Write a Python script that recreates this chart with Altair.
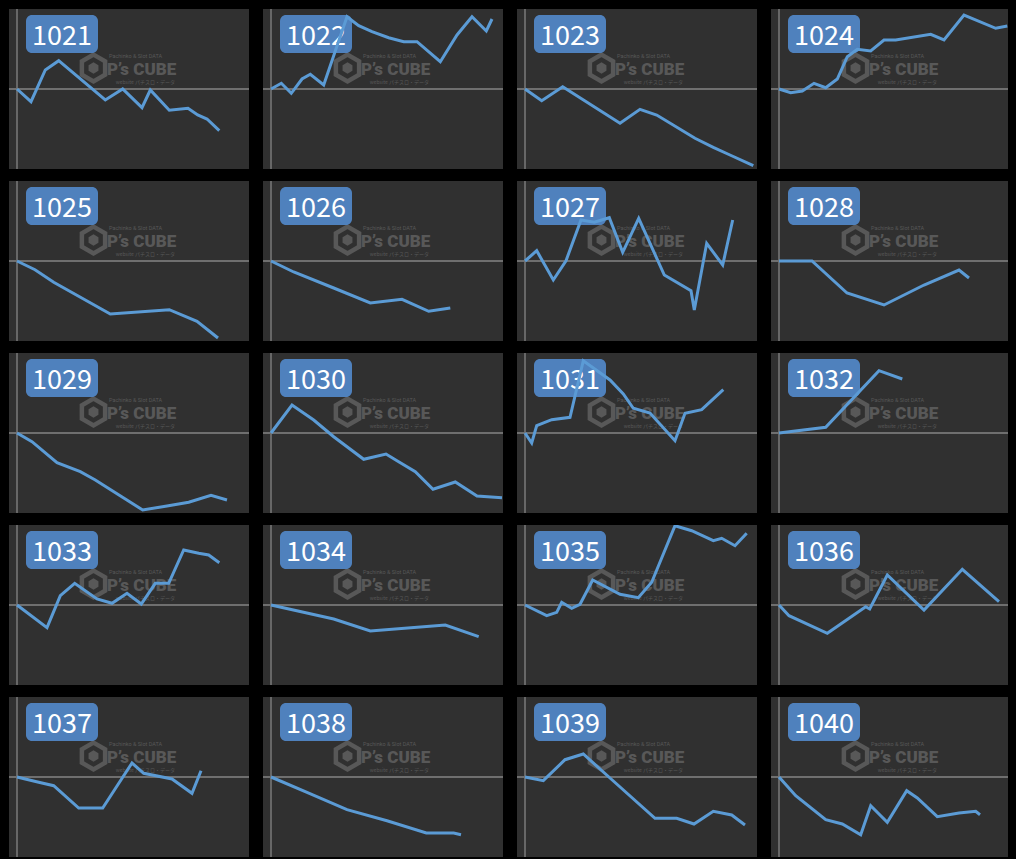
import altair as alt
import pandas as pd
import jinja2

# machine numbers (one small chart each)
MACHINES = [str(n) for n in range(1021, 1041)]

# x: play progress, y: coin difference (x100)
X_1021 = [0, 14, 28.3, 41.7, 88.3, 105.7, 125, 133.3, 152.3, 171, 180.7, 190, 202.3]
Y_1021 = [0, -12.7, 19, 28.3, -11, 0, -18.7, -1, -21.3, -19.3, -26, -30, -41.7]
X_1022 = [0, 10.3, 20.3, 31, 39.3, 52.7, 76, 87.7, 101, 117.7, 132.7, 146, 169.3, 186, 201, 215.3, 221]
Y_1022 = [0, 5.7, -4.3, 10, 14.7, 4, 72.3, 63.3, 57.3, 51.3, 47.3, 47.3, 27.3, 54, 72.3, 58, 70]
X_1023 = [0, 16.7, 37.7, 95, 115, 131.7, 170, 188.3, 205, 228.3]
Y_1023 = [0, -11.7, 2.3, -34.3, -20.3, -26, -49.3, -58.3, -66, -76.7]
X_1024 = [0, 11.7, 23.3, 35, 46.7, 58.3, 68.3, 78.3, 91.7, 105, 116.7, 151.7, 165, 185, 216.7, 228.3]
Y_1024 = [0, -3.7, -2, 5.7, 1.3, 10, 32.3, 39.7, 38, 49, 49, 54.7, 49, 74, 60.7, 63]
X_1025 = [0, 18, 36.7, 93.3, 152.3, 180, 201]
Y_1025 = [0, -8.7, -21.3, -53, -48.7, -60.3, -77]
X_1026 = [0, 22.7, 62.7, 99.3, 131, 157.7, 179.3]
Y_1026 = [0, -11, -27, -42, -38.3, -50.3, -47]
X_1027 = [0, 11.7, 28.3, 41, 56, 69.3, 84.3, 97.7, 113.7, 139.3, 166, 169.3, 181.7, 197.7, 207.7]
Y_1027 = [0, 10.3, -19, 0.3, 41, 38.7, 43.3, 8.7, 42.7, -14, -29.7, -49, 17.7, -4, 41]
X_1028 = [0, 33, 68, 105, 145, 180, 190]
Y_1028 = [0, 0, -32, -44, -24, -9, -17]
X_1029 = [0, 15, 40, 63.3, 78.3, 125.7, 150, 171.7, 194, 210]
Y_1029 = [0, -8.7, -29.7, -38.7, -47, -77, -73, -69.3, -62.3, -67]
X_1030 = [0, 21, 42.7, 62.7, 92.7, 115, 126, 144.3, 162, 184.3, 206, 231]
Y_1030 = [0, 28, 13, -3.7, -26.3, -21, -27.7, -38.7, -56.3, -49, -63, -64.7]
X_1031 = [0, 6.7, 11.7, 26.7, 45, 58.3, 85, 98.3, 108.3, 125, 150, 160, 176.7, 198.3]
Y_1031 = [0, -10, 7.3, 13.3, 15.7, 72.3, 53, 39, 24.7, 20, -7.7, 19.7, 23.3, 43.3]
X_1032 = [0, 46.7, 100, 123.3]
Y_1032 = [0, 5.7, 62.3, 54]
X_1033 = [0, 30, 43.3, 57.7, 80, 95, 110, 124.3, 138.3, 151.7, 166.7, 181.7, 191.7, 202.3]
Y_1033 = [0, -22.7, 9.3, 21.7, 6, 1.7, 11.7, 1, 21.7, 21.7, 55, 51.7, 50, 42.3]
X_1034 = [0, 62.7, 99.3, 174.3, 207.7]
Y_1034 = [0, -14, -26, -20, -31.7]
X_1035 = [0, 21.7, 31.7, 36.7, 46.7, 55, 67.7, 95, 113.3, 126.7, 150, 166.7, 188.3, 196.7, 210, 221.7]
Y_1035 = [0, -10.7, -7.3, 2.7, -3.3, 0.7, 25, 10.7, 7.3, 22.7, 79.3, 74.3, 64.3, 66.7, 59.3, 71.7]
X_1036 = [0, 10, 48.3, 86.7, 90.7, 108.3, 145, 183.3, 220]
Y_1036 = [0, -10.7, -28.3, -1.7, -4, 30, -5, 35.7, 3.3]
X_1037 = [0, 21.7, 36.7, 61.7, 85.7, 115, 126.7, 155, 175, 184]
Y_1037 = [0, -5.3, -8.7, -31, -31, 14, 3.7, -2, -16.3, 6.3]
X_1038 = [0, 36, 76, 116, 155.3, 182.7, 190]
Y_1038 = [0, -15.3, -32.7, -43.7, -56, -56, -57.7]
X_1039 = [0, 18.3, 40, 58.3, 85, 130, 151.7, 169, 188.3, 206.7, 220]
Y_1039 = [0, -3.7, 17.3, 23, -1, -41.3, -41.3, -47, -34.3, -38, -48]
X_1040 = [0, 16.7, 46.7, 63.3, 81.7, 91.7, 108.3, 127.7, 138.3, 158.3, 180, 196.7, 201]
Y_1040 = [0, -18.7, -42.7, -47, -57.7, -28.7, -45.3, -13.7, -21, -39.7, -36, -34.3, -37.7]

SERIES = {
    "1021": (X_1021, Y_1021), "1022": (X_1022, Y_1022), "1023": (X_1023, Y_1023),
    "1024": (X_1024, Y_1024), "1025": (X_1025, Y_1025), "1026": (X_1026, Y_1026),
    "1027": (X_1027, Y_1027), "1028": (X_1028, Y_1028), "1029": (X_1029, Y_1029),
    "1030": (X_1030, Y_1030), "1031": (X_1031, Y_1031), "1032": (X_1032, Y_1032),
    "1033": (X_1033, Y_1033), "1034": (X_1034, Y_1034), "1035": (X_1035, Y_1035),
    "1036": (X_1036, Y_1036), "1037": (X_1037, Y_1037), "1038": (X_1038, Y_1038),
    "1039": (X_1039, Y_1039), "1040": (X_1040, Y_1040),
}

rows = []
for m in MACHINES:
    xs, ys = SERIES[m]
    for i, (xv, yv) in enumerate(zip(xs, ys)):
        rows.append({"id": m, "i": i, "x": xv, "y": yv})
df = pd.DataFrame(rows)

XSCALE = alt.Scale(domain=[-8, 232], nice=False, zero=False)
YSCALE = alt.Scale(domain=[-80, 80], nice=False, zero=False)
WM = "#585858"
HEX = "M0,-1L0.866,-0.5L0.866,0.5L0,1L-0.866,0.5L-0.866,-0.5Z"


def panel(m):
    base = alt.Chart().transform_filter(alt.datum.id == m)
    first = base.transform_filter("datum.i == 0")

    vline = first.mark_rule(color="#7a7a7a", strokeWidth=1.5).encode(
        x=alt.X("x:Q", scale=XSCALE, axis=None))
    hline = first.mark_rule(color="#6f6f6f", strokeWidth=2).encode(
        y=alt.Y("y:Q", scale=YSCALE, axis=None))

    wm_hex = first.mark_point(shape=HEX, filled=False, stroke=WM, strokeWidth=4.5,
                              size=720, opacity=1).encode(
        x=alt.value(84.5), y=alt.value(59))
    wm_cube = first.mark_point(shape=HEX, filled=True, fill=WM, size=130,
                               opacity=1).encode(
        x=alt.value(84.5), y=alt.value(59))
    wm_main = first.mark_text(text="P\u2019s CUBE", font="Roboto", fontWeight=900,
                              fontSize=17, color=WM, align="left",
                              baseline="alphabetic").encode(
        x=alt.value(98), y=alt.value(66))
    wm_top = first.mark_text(text="Pachinko & Slot DATA", font="Roboto", fontSize=5.5,
                             color=WM, align="left", baseline="alphabetic").encode(
        x=alt.value(100), y=alt.value(49))
    wm_bot = first.mark_text(text="website パチスロ・データ", font="Noto Sans CJK JP",
                             fontSize=5, color=WM, align="right",
                             baseline="alphabetic").encode(
        x=alt.value(166), y=alt.value(75))

    badge = first.mark_rect(color="#4f81bd", cornerRadius=6).encode(
        x=alt.value(17), x2=alt.value(89), y=alt.value(6), y2=alt.value(44))
    badge_text = first.mark_text(font="Noto Sans CJK JP", fontSize=27, color="#ffffff",
                                 align="center", baseline="alphabetic").encode(
        x=alt.value(53), y=alt.value(36), text=alt.Text("id:N"))

    line = base.mark_line(color="#5b9bd5", strokeWidth=3, clip=True).encode(
        x=alt.X("x:Q", scale=XSCALE, axis=None),
        y=alt.Y("y:Q", scale=YSCALE, axis=None),
        order=alt.Order("i:Q"),
    )
    return alt.layer(vline, hline, wm_hex, wm_cube, wm_main, wm_top, wm_bot,
                     badge, badge_text, line).properties(width=240, height=160)


grid_rows = []
for r in range(5):
    grid_rows.append(alt.hconcat(*[panel(m) for m in MACHINES[r * 4:(r + 1) * 4]],
                                 spacing=12))

chart = alt.vconcat(*grid_rows, spacing=10, data=df).configure(
    background="#000000", padding=0).configure_view(fill="#303030", strokeWidth=0)

PAGE = jinja2.Template("""<!DOCTYPE html>
<html>
<head>
<style>html, body { background: #000000; }</style>
<script type="text/javascript" src="{{ base_url }}/vega@{{ vega_version }}"></script>
<script type="text/javascript" src="{{ base_url }}/vega-lite@{{ vegalite_version }}"></script>
<script type="text/javascript" src="{{ base_url }}/vega-embed@{{ vegaembed_version }}"></script>
</head>
<body>
<div id="{{ output_div }}"></div>
<script type="text/javascript">
  (function(vegaEmbed) {
    var spec = {{ spec }};
    var embedOpt = {{ embed_options }};
    vegaEmbed("#{{ output_div }}", spec, embedOpt).catch(console.error);
  })(vegaEmbed);
</script>
</body>
</html>
""")

try:
    chart.save("out.html", embed_options={"renderer": "svg", "actions": False},
               template=PAGE)
except Exception:
    chart.save("out.html", embed_options={"renderer": "svg", "actions": False})
